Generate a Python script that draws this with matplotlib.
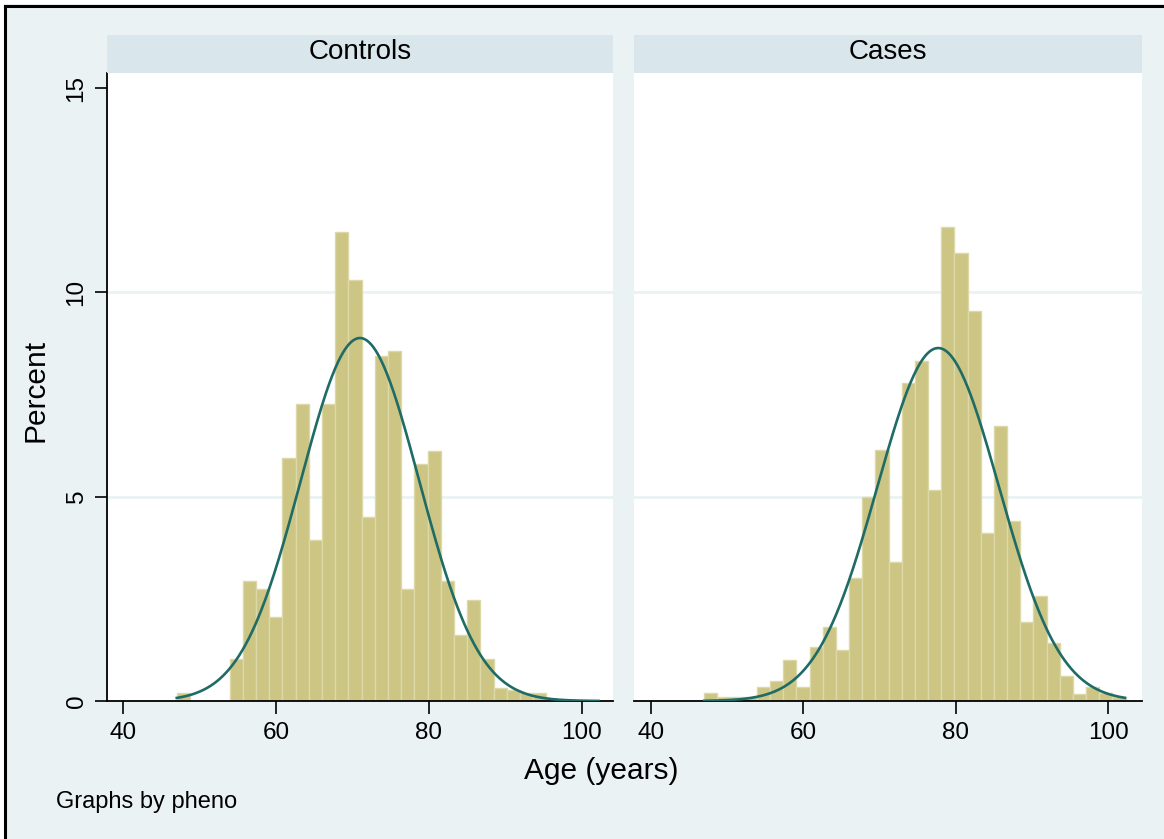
import numpy as np
import matplotlib.pyplot as plt
from matplotlib.lines import Line2D
from matplotlib.patches import Rectangle

plt.rcParams['font.family'] = ['Liberation Sans', 'DejaVu Sans']

# Histogram bins (shared start and width), percent per bin
bin_start = 47.0
bin_width = 1.728

controls_pct = [0.19, 0.0, 0.0, 0.0, 1.02, 2.93, 2.75, 2.05, 5.95, 7.27,
                3.94, 7.27, 11.49, 10.31, 4.51, 8.44, 8.56, 2.75, 5.81, 6.12,
                2.93, 1.61, 2.47, 1.03, 0.31, 0.28, 0.19, 0.19]
cases_pct = [0.19, 0.1, 0.1, 0.1, 0.35, 0.5, 1.0, 0.35, 1.33, 1.82,
             1.25, 3.02, 5.0, 6.14, 3.41, 7.78, 8.31, 5.16, 11.61, 10.97,
             9.54, 4.1, 6.73, 4.4, 1.94, 2.58, 1.43, 0.61, 0.17, 0.35,
             0.2, 0.1]

# fitted normal curves (mean, sd) and the range they are drawn over
controls_norm = (70.98, 7.76)
cases_norm = (77.7, 7.98)
curve_range = (47.0, 102.2)

panel_titles = ['Controls', 'Cases']
x_ticks = [40, 60, 80, 100]
y_ticks = [0, 5, 10, 15]

BG = '#eaf2f3'
STRIP = '#d9e6eb'
BAR = '#ccc584'
BAR_EDGE = '#dcd8a8'
CURVE = '#1f6b66'

W, H = 1164, 839
fig = plt.figure(figsize=(W / 100, H / 100), dpi=100, facecolor=BG)


def fx(px):
    return px / W


def fy(py):
    return 1 - py / H


# white margin plus black frame on top and left
fig.add_artist(Rectangle((0, fy(4)), 1, 4 / H, transform=fig.transFigure,
                         facecolor='white', edgecolor='none'))
fig.add_artist(Rectangle((0, 0), 3.5 / W, 1, transform=fig.transFigure,
                         facecolor='white', edgecolor='none'))
fig.add_artist(Line2D([fx(4.5), 1], [fy(5.5), fy(5.5)], transform=fig.transFigure,
                      color='black', lw=2.2))
fig.add_artist(Line2D([fx(4.5), fx(4.5)], [0, fy(5.5)], transform=fig.transFigure,
                      color='black', lw=2.2))

panels = [
    (107, 613, (37.87, 104.1), controls_pct, controls_norm),
    (634, 1141.7, (37.8, 104.4), cases_pct, cases_norm),
]
top, bottom = 73, 701

for i, (x0, x1, xlim, pct, (mu, sd)) in enumerate(panels):
    ax = fig.add_axes([fx(x0), fy(bottom), (x1 - x0) / W, (bottom - top) / H])
    ax.set_facecolor('white')
    ax.set_xlim(*xlim)
    ax.set_ylim(0, 15.37)

    for g in [5, 10]:
        ax.axhline(g, color=BG, lw=2, zorder=0.5)

    lefts = bin_start + bin_width * np.arange(len(pct))
    ax.bar(lefts, pct, width=bin_width, align='edge', color=BAR,
           edgecolor=BAR_EDGE, linewidth=1.0, zorder=2)

    xs = np.linspace(curve_range[0], curve_range[1], 400)
    dens = 100 * bin_width * np.exp(-0.5 * ((xs - mu) / sd) ** 2) / (sd * np.sqrt(2 * np.pi))
    ax.plot(xs, dens, color=CURVE, lw=1.9, zorder=3)

    for s in ['top', 'right']:
        ax.spines[s].set_visible(False)
    ax.spines['bottom'].set_linewidth(1.3)
    ax.set_xticks(x_ticks)
    ax.set_xticklabels([str(t) for t in x_ticks])
    ax.tick_params(axis='x', direction='out', length=9, width=1.2,
                   labelsize=17.5, pad=6)
    if i == 0:
        ax.spines['left'].set_linewidth(1.3)
        ax.set_yticks(y_ticks)
        ax.set_yticklabels([str(t) for t in y_ticks], rotation=90, va='center')
        ax.tick_params(axis='y', direction='out', length=9, width=1.2,
                       labelsize=17.5, pad=5)
    else:
        ax.spines['left'].set_visible(False)
        ax.set_yticks([])

    # strip with panel title
    sax = fig.add_axes([fx(x0), fy(72.5), (x1 - x0) / W, 37.5 / H])
    sax.set_facecolor(STRIP)
    sax.set_xticks([])
    sax.set_yticks([])
    for s in sax.spines.values():
        s.set_visible(False)
    sax.text(0.5, 0.55, panel_titles[i], ha='center', va='center',
             fontsize=20, transform=sax.transAxes)

fig.text(fx(36), fy(390), 'Percent', rotation=90, ha='center', va='center',
         fontsize=21.5)
fig.text(fx(601), fy(771), 'Age (years)', ha='center', va='center',
         fontsize=21.5)
fig.text(fx(56), fy(802), 'Graphs by pheno', ha='left', va='center',
         fontsize=17)

fig.savefig('out.png', dpi=100, facecolor=BG)
